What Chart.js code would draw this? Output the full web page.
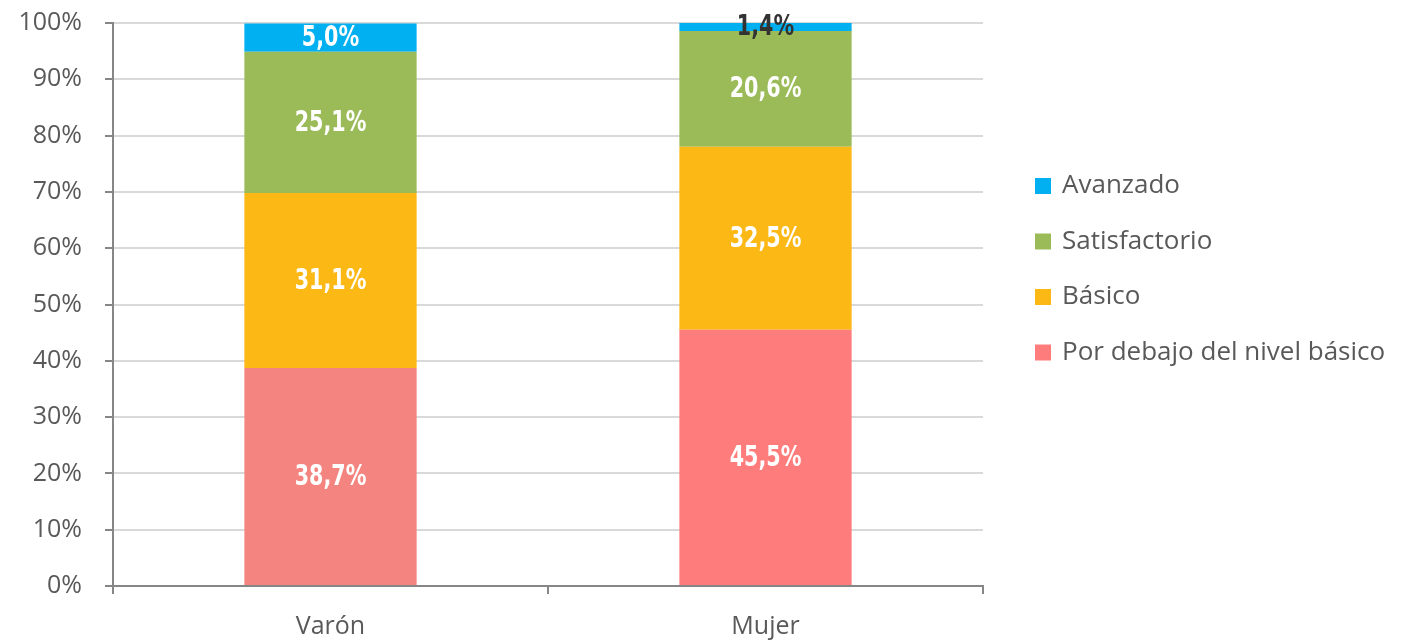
<!DOCTYPE html>
<html>
<head>
<meta charset="utf-8">
<script src="https://cdn.jsdelivr.net/npm/chart.js@4.4.1/dist/chart.umd.min.js"></script>
<style>
  html,body{margin:0;padding:0;background:#fff;}
  #wrap{width:1410px;height:642px;position:relative;}
</style>
</head>
<body>
<div id="wrap"><canvas id="chart"></canvas></div>
<script>
const categories=['Varón','Mujer'];
const porDebajo=[38.7,45.5];
const basico=[31.1,32.5];
const satisfactorio=[25.1,20.6];
const avanzado=[5.0,1.4];
const yTicks=[0,10,20,30,40,50,60,70,80,90,100];

const AXIS_FONT='"Open Sans", "Noto Sans", sans-serif';
const LABEL_FONT='"DejaVu Sans Condensed", "DejaVu Sans", sans-serif';
const fmt=v=>v.toFixed(1).replace('.',',')+'%';

// etiquetas de valor centradas en cada segmento (texto estrechado)
const segLabels={
  id:'segLabels',
  afterDatasetsDraw(chart){
    const ctx=chart.ctx;
    chart.data.datasets.forEach((ds,di)=>{
      const meta=chart.getDatasetMeta(di);
      meta.data.forEach((bar,i)=>{
        const v=ds.data[i];
        let y=(bar.y+bar.base)/2;
        if(v<3) y=bar.y+4;
        ctx.save();
        ctx.translate(bar.x,y+1);
        ctx.scale(0.82,1);
        ctx.font='bold 28px '+LABEL_FONT;
        ctx.textAlign='center'; ctx.textBaseline='middle';
        ctx.fillStyle=(ds.labelColors&&ds.labelColors[i])||'#fff';
        ctx.fillText(fmt(v),0,0);
        ctx.restore();
      });
    });
  }
};

// leyenda a la derecha, en orden inverso
const sideLegend={
  id:'sideLegend',
  afterDraw(chart){
    const ctx=chart.ctx;
    const items=chart.data.datasets.slice().reverse();
    ctx.save();
    ctx.font='26px '+AXIS_FONT;
    ctx.textBaseline='middle'; ctx.textAlign='left';
    items.forEach((ds,k)=>{
      const y=186+k*55.5;
      ctx.fillStyle=Array.isArray(ds.backgroundColor)?ds.backgroundColor[1]:ds.backgroundColor;
      ctx.fillRect(1035,y-8,16,16);
      ctx.fillStyle='#595959';
      ctx.fillText(ds.label,1062,y);
    });
    ctx.restore();
  }
};

new Chart(document.getElementById('chart'),{
  type:'bar',
  data:{
    labels:categories,
    datasets:[
      {label:'Por debajo del nivel básico',data:porDebajo,backgroundColor:['#F4847F','#FF7C7C']},
      {label:'Básico',data:basico,backgroundColor:'#FCB814'},
      {label:'Satisfactorio',data:satisfactorio,backgroundColor:'#9BBB59'},
      {label:'Avanzado',data:avanzado,backgroundColor:'#00B0F0',labelColors:['#fff','#333']}
    ]
  },
  options:{
    responsive:true, maintainAspectRatio:false, animation:false,
    devicePixelRatio:1,
    layout:{padding:{top:23,right:427,left:0,bottom:0}},
    datasets:{bar:{barPercentage:1,categoryPercentage:0.396}},
    plugins:{legend:{display:false},tooltip:{enabled:false}},
    scales:{
      x:{
        stacked:true,
        grid:{offset:true,drawOnChartArea:false,drawTicks:true,tickLength:8,color:'#868686',lineWidth:2},
        border:{color:'#868686',width:2},
        ticks:{color:'#595959',font:{family:AXIS_FONT,size:25},padding:18},
        afterFit(s){s.height=56;s.paddingLeft=0;s.paddingRight=0;}
      },
      y:{
        stacked:true, min:0, max:100,
        afterBuildTicks(s){s.ticks=yTicks.map(v=>({value:v}));},
        grid:{color:'#D9D9D9',lineWidth:2,tickLength:8,
              tickColor:'#868686'},
        border:{color:'#868686',width:2},
        ticks:{color:'#595959',font:{family:AXIS_FONT,size:25},padding:23,callback:v=>v+'%'},
        afterFit(s){s.width=113;s.paddingTop=0;s.paddingBottom=0;}
      }
    }
  },
  plugins:[segLabels,sideLegend]
});
</script>
</body>
</html>
